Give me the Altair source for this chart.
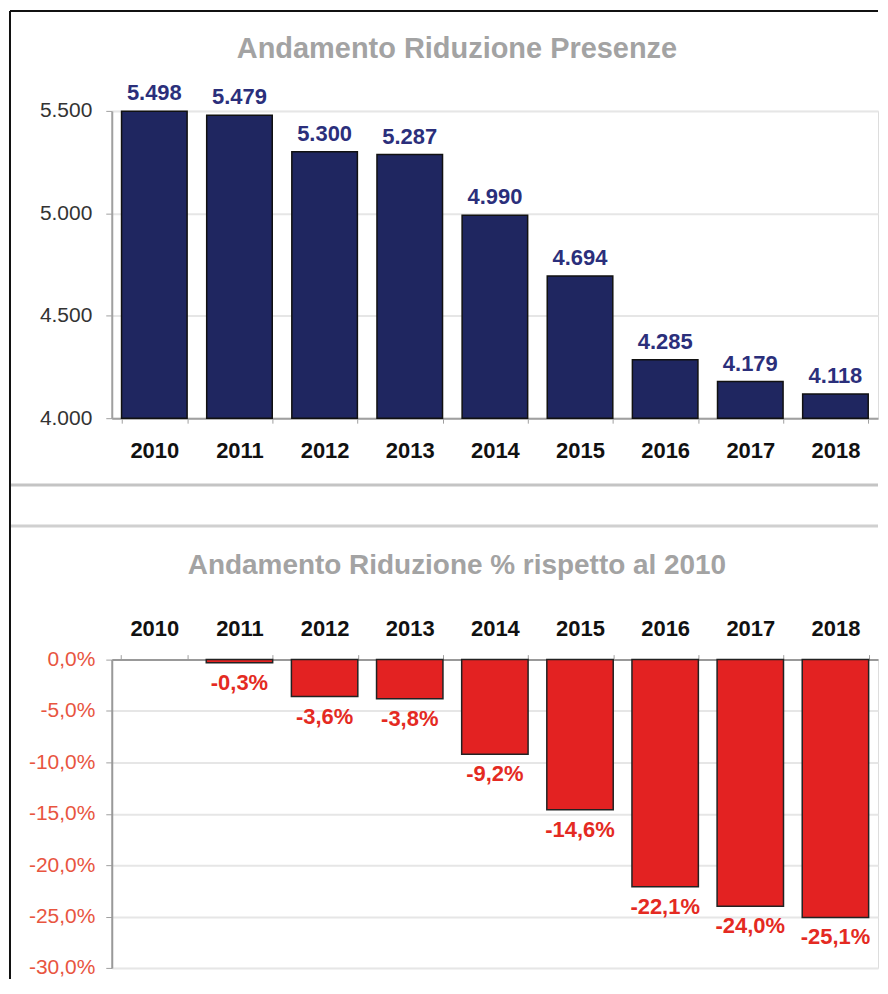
import altair as alt
import pandas as pd

# ---- data ----
years = ["2010", "2011", "2012", "2013", "2014", "2015", "2016", "2017", "2018"]
presenze = [5498, 5479, 5300, 5287, 4990, 4694, 4285, 4179, 4118]
riduzione_pct = [0.0, -0.3, -3.6, -3.8, -9.2, -14.6, -22.1, -24.0, -25.1]
ticks_top = [4000, 4500, 5000, 5500]
ticks_bottom = [0.0, -0.05, -0.10, -0.15, -0.20, -0.25, -0.30]
title_top = "Andamento Riduzione Presenze"
title_bottom = "Andamento Riduzione % rispetto al 2010"

FONT = "Liberation Sans"

df_top = pd.DataFrame({
    "anno": years,
    "presenze": presenze,
    "label": [f"{v:,}".replace(",", ".") for v in presenze],
})
df_bot = pd.DataFrame({
    "anno": years,
    "pct": [v / 100 for v in riduzione_pct],
    "label": [f"{v:.1f}".replace(".", ",") + "%" for v in riduzione_pct],
})
one = alt.Data(values=[{"k": 1}])

W1, H1 = 768, 308
W2, H2 = 768, 309
LEFT = -102  # frame line, relative to plot origin

# ---- top chart ----
x_top = alt.X(
    "anno:N", title=None, sort=years,
    scale=alt.Scale(domain=years, paddingInner=0.23, paddingOuter=0.115),
    axis=alt.Axis(orient="bottom", labelAngle=0, labelFont=FONT, labelFontSize=22,
                  labelFontWeight="bold", labelColor="#111111", labelPadding=17,
                  tickBand="extent", tickColor="#a0a0a0", tickSize=5,
                  domainColor="#a0a0a0", domainWidth=2, grid=False),
)
y_top = alt.Y(
    "presenze:Q", title=None, stack=None,
    scale=alt.Scale(domain=[4000, 5500], nice=False, zero=False),
    axis=alt.Axis(values=ticks_top,
                  labelExpr="replace(format(datum.value, ',.0f'), ',', '.')",
                  labelFont=FONT, labelFontSize=21, labelColor="#333333",
                  tickSize=6, labelPadding=14, tickColor="#a0a0a0",
                  domainColor="#a0a0a0", domainWidth=2,
                  gridColor="#e6e6e6", gridWidth=2),
)

bars_top = alt.Chart(df_top).mark_bar(color="#1f2660", stroke="#111111", strokeWidth=1.5).encode(
    x=x_top, y=y_top)
text_top = alt.Chart(df_top).mark_text(
    baseline="bottom", dy=-6, fontSize=22, fontWeight="bold", color="#2b2f7b", font=FONT
).encode(x=x_top, y=y_top, text="label:N")

# outer frame: left black line running the full height, top black line
frame_left = alt.Chart(one).mark_rule(color="#111111", strokeWidth=2).encode(
    x=alt.value(LEFT), y=alt.value(-100), y2=alt.value(870))
frame_top = alt.Chart(one).mark_rule(color="#111111", strokeWidth=2).encode(
    x=alt.value(LEFT), x2=alt.value(W1), y=alt.value(-100))
gray1 = alt.Chart(one).mark_rule(color="#c4c4c4", strokeWidth=3).encode(
    x=alt.value(LEFT + 1), x2=alt.value(W1), y=alt.value(375))
gray2 = alt.Chart(one).mark_rule(color="#d0d0d0", strokeWidth=3).encode(
    x=alt.value(LEFT + 1), x2=alt.value(W1), y=alt.value(416))
ttl_top = alt.Chart(one).mark_text(
    text=title_top, fontSize=29, fontWeight="bold", color="#a3a3a3", font=FONT, baseline="middle"
).encode(x=alt.value(346), y=alt.value(-62))

top = alt.layer(frame_left, frame_top, gray1, gray2, ttl_top, bars_top, text_top).properties(
    width=W1, height=H1)

# ---- bottom chart ----
x_bot = alt.X(
    "anno:N", title=None, sort=years,
    scale=alt.Scale(domain=years, paddingInner=0.22, paddingOuter=0.11),
    axis=alt.Axis(orient="top", labelAngle=0, labelFont=FONT, labelFontSize=22,
                  labelFontWeight="bold", labelColor="#111111", labelPadding=14,
                  tickBand="extent", tickColor="#a0a0a0", tickSize=5,
                  domainColor="#999999", domainWidth=2, grid=False),
)
y_bot = alt.Y(
    "pct:Q", title=None, stack=None,
    scale=alt.Scale(domain=[-0.30, 0.0], nice=False),
    axis=alt.Axis(values=ticks_bottom,
                  labelExpr="replace(replace(format(datum.value, '.1%'), '.', ','), '\u2212', '-')",
                  labelFont=FONT, labelFontSize=21, labelColor="#e8553f",
                  tickSize=6, labelPadding=11, tickColor="#a0a0a0",
                  domainColor="#999999", domainWidth=2,
                  gridColor="#e6e6e6", gridWidth=2),
)

bars_bot = alt.Chart(df_bot).transform_filter("datum.pct != 0").mark_bar(
    color="#e32222", stroke="#222222", strokeWidth=1.5).encode(x=x_bot, y=y_bot)
text_bot = alt.Chart(df_bot).transform_filter("datum.pct != 0").mark_text(
    baseline="top", dy=10, fontSize=22, fontWeight="bold", color="#e42a22", font=FONT
).encode(x=x_bot, y=y_bot, text="label:N")

ttl_bot = alt.Chart(one).mark_text(
    text=title_bottom, fontSize=28, fontWeight="bold", color="#a3a3a3", font=FONT, baseline="middle"
).encode(x=alt.value(346), y=alt.value(-94))

bottom = alt.layer(ttl_bot, bars_bot, text_bot).properties(width=W2, height=H2)

chart = alt.ConcatChart(
    concat=[top, bottom], columns=1, spacing=242, bounds="flush",
    padding={"left": 0, "top": 0, "right": 0, "bottom": 0},
).configure_view(stroke="#c8c8c8", strokeWidth=1.5).configure(font=FONT)

chart.save("out.html", embed_options={"renderer": "svg", "actions": False})
